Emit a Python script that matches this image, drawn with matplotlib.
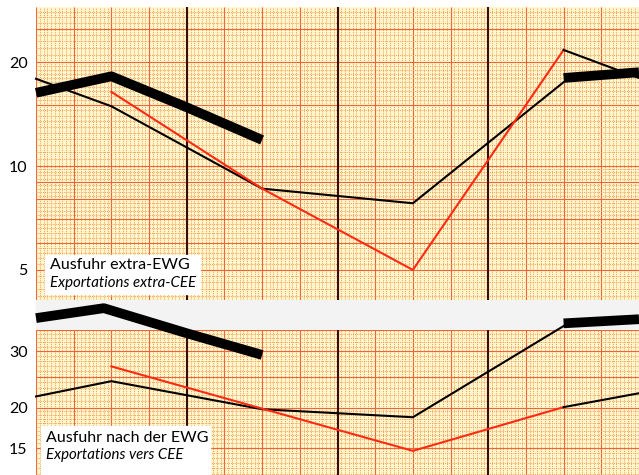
import numpy as np
import matplotlib.pyplot as plt
from matplotlib.patches import Rectangle

# positions along the time axis (half-year steps)
# top panel: Ausfuhr extra-EWG
top_thin_x = [0, 1, 3, 5, 7]
top_thin = [17.9, 14.9, 8.6, 7.8, 17.5]
top_red_x = [1, 3, 5, 7]
top_red = [16.4, 8.6, 5.0, 21.7]
top_red_tail_x = [7, 8]
top_red_tail = [21.7, 18.0]
top_thick_x = [0, 1, 2, 3]
top_thick = [16.3, 18.2, 14.8, 11.9]
top_thick2_x = [7, 8]
top_thick2 = [18.0, 18.7]

# bottom panel: Ausfuhr nach der EWG
bot_thin_x = [0, 1, 3, 5, 7]
bot_thin = [21.7, 24.2, 19.8, 18.7, 35.9]
bot_red_x = [1, 5, 7]
bot_red = [26.9, 14.7, 20.1]
bot_red_tail_x = [7, 8]
bot_red_tail = [20.1, 22.2]
bot_thick_x = [0, 0.9, 2, 3]
bot_thick = [38.0, 40.8, 34.1, 29.2]
bot_thick2_x = [7, 8]
bot_thick2 = [36.6, 37.7]

top_ticks = [5, 10, 20]
bot_ticks = [15, 20, 30]
year_lines = [2, 4, 6]

W, H = 639, 475
PAPER = '#fff6cc'
FINE = '#f39a55'
MID = '#f0643a'
RED = '#ff2a12'
DARK = '#3a0d08'

plt.rcParams['font.family'] = ['Lato', 'DejaVu Sans']


def rect(x0, y0, x1, y1):
    return [x0 / W, 1 - y1 / H, (x1 - x0) / W, (y1 - y0) / H]


def graph_paper(ax, lo, hi):
    ax.set_facecolor(PAPER)
    ax.set_yscale('log')
    ax.set_xlim(0, 8)
    ax.set_ylim(lo, hi)
    # vertical rulings
    ax.vlines(np.arange(0, 8.01, 0.05), lo, hi, color=FINE, lw=0.7,
              linestyles=(0, (1, 1.2)), zorder=1)
    ax.vlines(np.arange(0, 8.01, 0.5), lo, hi, color=MID, lw=0.8, zorder=1)
    # horizontal log rulings
    fine = np.concatenate([np.arange(4, 10, 0.2), np.arange(10, 20, 0.5),
                           np.arange(20, 40, 1.0)])
    ax.hlines(fine, 0, 8, color=FINE, lw=0.7, linestyles=(0, (1, 1.2)), zorder=1)
    mid = [4, 5, 6, 7, 8, 9, 10, 15, 20, 25, 30, 35]
    ax.hlines(mid, 0, 8, color=MID, lw=0.8, zorder=1)
    for x in year_lines:
        ax.axvline(x, color=DARK, lw=1.5, zorder=2)
    for s in ax.spines.values():
        s.set_visible(False)
    ax.set_xticks([])
    ax.minorticks_off()
    ax.tick_params(axis='y', length=0, pad=6, labelsize=11.5)


fig = plt.figure(figsize=(W / 100, H / 100), dpi=100)

ax1 = fig.add_axes(rect(36, 7, 639, 300))
graph_paper(ax1, 4.09, 28.9)
ax1.set_yticks(top_ticks)
ax1.set_yticklabels([str(t) for t in top_ticks])

ax2 = fig.add_axes(rect(36, 330, 639, 475))
graph_paper(ax2, 12.37, 34.9)
ax2.set_yticks(bot_ticks)
ax2.set_yticklabels([str(t) for t in bot_ticks])

# light band between the two sheets
fig.add_artist(Rectangle((36 / W, 1 - 330 / H), 603 / W, 30 / H,
                         transform=fig.transFigure, color='#f3f3f3', zorder=0))

for ax, tx, ty, rx, ry, ex, ey, kx, ky, k2x, k2y in [
        (ax1, top_thin_x, top_thin, top_red_x, top_red, top_red_tail_x, top_red_tail,
         top_thick_x, top_thick, top_thick2_x, top_thick2),
        (ax2, bot_thin_x, bot_thin, bot_red_x, bot_red, bot_red_tail_x, bot_red_tail,
         bot_thick_x, bot_thick, bot_thick2_x, bot_thick2)]:
    ax.plot(tx, ty, color='black', lw=1.5, zorder=4, clip_on=False)
    ax.plot(rx, ry, color=RED, lw=1.5, zorder=4, clip_on=False)
    ax.plot(ex, ey, color='black', lw=1.5, zorder=4, clip_on=False)
    ax.plot(kx, ky, color='black', lw=7, zorder=5, clip_on=False,
            solid_capstyle='butt', solid_joinstyle='round')
    ax.plot(k2x, k2y, color='black', lw=7, zorder=5, clip_on=False,
            solid_capstyle='butt', solid_joinstyle='round')

# label boxes
for (x0, y0, x1, y1), l1, l2, t1, t2 in [
        ((45, 255, 200, 294), 'Ausfuhr extra-EWG', 'Exportations extra-CEE', 265, 283),
        ((41, 426, 210, 475), 'Ausfuhr nach der EWG', 'Exportations vers CEE', 438, 455)]:
    fig.add_artist(Rectangle((x0 / W, 1 - y1 / H), (x1 - x0) / W, (y1 - y0) / H,
                             transform=fig.transFigure, color='white', zorder=6))
    fig.text((x0 + 5) / W, 1 - t1 / H, l1, fontsize=11.5, va='center', zorder=7)
    fig.text((x0 + 5) / W, 1 - t2 / H, l2, fontsize=10.8, va='center',
             style='italic', zorder=7)

fig.savefig('out.png', dpi=100)
